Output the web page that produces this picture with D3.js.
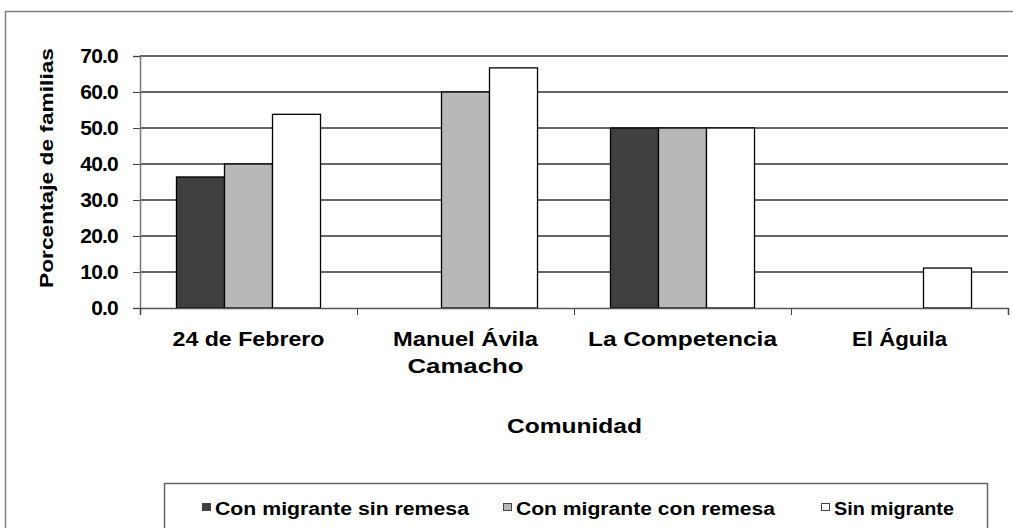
<!DOCTYPE html>
<html>
<head>
<meta charset="utf-8">
<script src="https://d3js.org/d3.v7.min.js"></script>
<style>
  body { margin: 0; background: #fff; }
  text { font-family: "Liberation Sans", Arial, sans-serif; font-weight: bold; fill: #000; }
  .grid line { stroke: #333; stroke-width: 1.3; }
</style>
</head>
<body>
<div id="chart"></div>
<script>
var categories = [["24 de Febrero"], ["Manuel Ávila", "Camacho"], ["La Competencia"], ["El Águila"]];
var series = ["Con migrante sin remesa", "Con migrante con remesa", "Sin migrante"];
var sinRemesa = [36.4, 0, 50.0, 0];
var conRemesa = [40.0, 60.0, 50.0, 0];
var sinMigrante = [53.8, 66.7, 50.0, 11.1];
var yTicks = [0, 10, 20, 30, 40, 50, 60, 70];
var colors = ["#404040", "#b8b8b8", "#ffffff"];

// label widths (its font is wider than ours)
var catWidths = [[152], [145, 116], [189], [95]];
var legendWidths = [254, 259, 120];

var width = 1013, height = 528;
var svg = d3.select("#chart").append("svg")
    .attr("width", width)
    .attr("height", height);

// outer frame
svg.append("rect")
    .attr("x", 5.5).attr("y", 11.5)
    .attr("width", 1020).attr("height", 530)
    .attr("fill", "none").attr("stroke", "#808080").attr("stroke-width", 1.5);

var plotL = 140, plotR = 1008, plotT = 56, plotB = 308;

var x0 = d3.scaleBand()
    .domain(d3.range(categories.length))
    .range([plotL, plotR]);

var x1 = d3.scaleBand()
    .domain(d3.range(series.length))
    .range([0, x0.bandwidth()])
    .paddingOuter(0.76);

var y = d3.scaleLinear()
    .domain([0, 70])
    .range([plotB, plotT]);

// gridlines
svg.append("g")
    .attr("class", "grid")
    .selectAll("line")
    .data(yTicks.slice(1))
  .enter().append("line")
    .attr("x1", plotL).attr("x2", plotR)
    .attr("y1", function(d) { return y(d); })
    .attr("y2", function(d) { return y(d); });

var data = [sinRemesa, conRemesa, sinMigrante];

// bars
categories.forEach(function(c, i) {
  data.forEach(function(s, j) {
    if (s[i] <= 0) return;
    svg.append("rect")
        .attr("x", x0(i) + x1(j))
        .attr("y", y(s[i]))
        .attr("width", x1.bandwidth())
        .attr("height", y(0) - y(s[i]))
        .attr("fill", colors[j])
        .attr("stroke", "#000")
        .attr("stroke-width", 1.3);
  });
});

// y axis
var yAxis = svg.append("g")
    .attr("transform", "translate(" + plotL + ",0)")
    .call(d3.axisLeft(y).tickValues(yTicks).tickSize(7).tickPadding(15)
      .tickFormat(d3.format(".1f")));
yAxis.select(".domain").attr("stroke", "#777").attr("stroke-width", 1.5);
yAxis.selectAll(".tick line").attr("stroke", "#444");
yAxis.selectAll("text")
    .style("font-size", "21px")
    .style("letter-spacing", "-0.8px")
    .attr("fill", "#000");

// x axis
var xAxis = svg.append("g")
    .attr("transform", "translate(0," + plotB + ")")
    .call(d3.axisBottom(d3.scaleLinear().domain([0, 4]).range([plotL, plotR]))
      .tickValues([0, 1, 2, 3, 4]).tickSize(7).tickFormat(""));
xAxis.select(".domain").attr("stroke", "#555").attr("stroke-width", 1.5);
xAxis.selectAll(".tick line").attr("stroke", "#444");

// category labels
categories.forEach(function(lines, i) {
  lines.forEach(function(l, k) {
    svg.append("text")
        .attr("x", x0(i) + x0.bandwidth() / 2 - catWidths[i][k] / 2)
        .attr("y", 346 + k * 27)
        .attr("textLength", catWidths[i][k])
        .attr("lengthAdjust", "spacingAndGlyphs")
        .style("font-size", "20px")
        .text(l);
  });
});

// axis titles
svg.append("text")
    .attr("x", 507).attr("y", 433)
    .attr("textLength", 135)
    .attr("lengthAdjust", "spacingAndGlyphs")
    .style("font-size", "20px")
    .text("Comunidad");

svg.append("text")
    .attr("transform", "translate(53,288) rotate(-90)")
    .attr("textLength", 240)
    .attr("lengthAdjust", "spacingAndGlyphs")
    .style("font-size", "19px")
    .text("Porcentaje de familias");

// legend
svg.append("rect")
    .attr("x", 164.5).attr("y", 483.5)
    .attr("width", 823).attr("height", 60)
    .attr("fill", "none").attr("stroke", "#666").attr("stroke-width", 1.5);

var legendX = [202, 503, 821];
series.forEach(function(s, j) {
  svg.append("rect")
      .attr("x", legendX[j] + 0.5).attr("y", 503.5)
      .attr("width", 8).attr("height", 7)
      .attr("fill", colors[j])
      .attr("stroke", "#444");
  svg.append("text")
      .attr("x", legendX[j] + 13).attr("y", 515)
      .attr("textLength", legendWidths[j])
      .attr("lengthAdjust", "spacingAndGlyphs")
      .style("font-size", "18px")
      .text(s);
});
</script>
</body>
</html>
